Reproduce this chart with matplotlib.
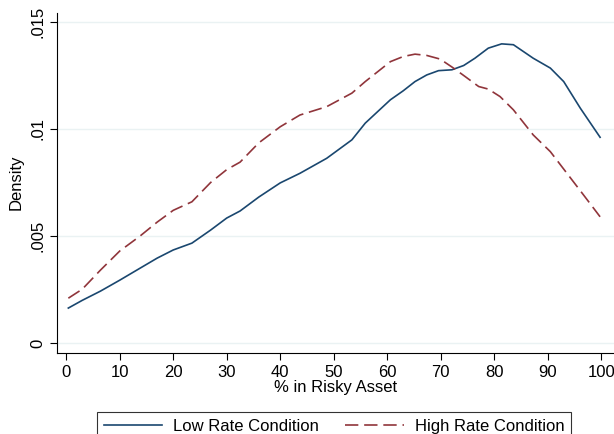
import matplotlib
matplotlib.use("Agg")
import matplotlib.pyplot as plt
from matplotlib.ticker import FuncFormatter

plt.rcParams['font.family'] = ['Liberation Sans', 'DejaVu Sans']

# % in risky asset, density estimates
low_x = [0.4, 3, 6.4, 10, 13.8, 17, 20, 23.5, 27, 30, 32.5, 36, 40, 43.7, 48.7, 53.4,
         55.9, 60.6, 63.0, 65.2, 67.4, 69.6, 72.1, 74.3, 76.4, 78.9, 81.4, 83.6,
         87.3, 90.5, 93.0, 96.1, 99.8]
low_y = [1.64, 2.0, 2.43, 2.94, 3.5, 3.97, 4.35, 4.67, 5.28, 5.84, 6.17, 6.82, 7.48,
         7.93, 8.63, 9.49, 10.27, 11.36, 11.78, 12.21, 12.52, 12.72, 12.76, 12.96,
         13.30, 13.77, 13.97, 13.93, 13.30, 12.84, 12.21, 10.97, 9.61]
high_x = [0.4, 3, 6.4, 10, 13.8, 17, 20, 23.5, 27, 30, 32.5, 36, 40, 43.7, 48.7, 53.4,
          55.9, 60.6, 63.0, 65.2, 67.4, 69.9, 72.4, 74.6, 77.1, 78.9, 81.1, 83.6,
          87.3, 90.5, 93.6, 96.7, 99.8]
high_y = [2.10, 2.52, 3.41, 4.3, 5.0, 5.65, 6.2, 6.6, 7.5, 8.1, 8.45, 9.35, 10.1,
          10.65, 11.04, 11.67, 12.21, 13.14, 13.38, 13.49, 13.43, 13.26, 12.84, 12.44,
          11.98, 11.86, 11.51, 10.89, 9.72, 8.94, 7.93, 6.92, 5.90]
low_y = [v / 1000 for v in low_y]
high_y = [v / 1000 for v in high_y]

fig = plt.figure(figsize=(6.14, 4.34), dpi=100)
ax = fig.add_axes([0.093, 0.187, 0.907, 0.784])

ax.plot(low_x, low_y, color='#1a476f', lw=1.2, label='Low Rate Condition')
ax.plot(high_x, high_y, color='#90353b', lw=1.2, dashes=(8, 3.5), label='High Rate Condition')

ax.set_xlim(-1.7, 102.4)
ax.set_ylim(-0.00045, 0.01543)
ax.set_xticks(range(0, 101, 10))
ax.set_yticks([0, 0.005, 0.01, 0.015])

def yfmt(v, pos):
    if v == 0:
        return '0'
    return ('%g' % v).lstrip('0')
ax.yaxis.set_major_formatter(FuncFormatter(yfmt))
for lab in ax.get_yticklabels():
    lab.set_rotation(90)
    lab.set_va('center')

ax.tick_params(direction='out', length=5, labelsize=12, color='black')
ax.grid(axis='y', color='#eaf2f3', lw=1)
ax.set_axisbelow(True)
ax.spines['top'].set_visible(False)
ax.spines['right'].set_visible(False)

ax.set_xlabel('% in Risky Asset', fontsize=12, labelpad=0)
ax.set_ylabel('Density', fontsize=12, labelpad=5)

leg = fig.legend(loc='upper center', bbox_to_anchor=(0.544, 1 - 404 / 434), ncol=2,
                 fontsize=12, frameon=True, fancybox=False, handlelength=3.5,
                 handletextpad=0.65, columnspacing=1.6, borderpad=0.4)
leg.get_frame().set_edgecolor('black')
leg.get_frame().set_linewidth(0.8)

plt.savefig('out.png', dpi=100)
